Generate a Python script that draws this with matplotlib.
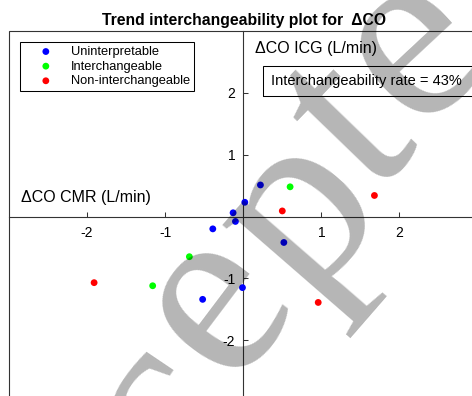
import matplotlib.pyplot as plt
from matplotlib.patches import Rectangle

# Change in cardiac output between two time points (L/min): CMR on x, ICG on y
unint_cmr = [0.22, 0.02, -0.13, -0.10, -0.39, 0.52, -0.01, -0.52]
unint_icg = [0.51, 0.23, 0.06, -0.08, -0.20, -0.42, -1.15, -1.34]
inter_cmr = [0.60, -0.69, -1.16]
inter_icg = [0.48, -0.65, -1.12]
noninter_cmr = [1.68, 0.50, -1.91, 0.96]
noninter_icg = [0.34, 0.09, -1.07, -1.39]

groups = ['Uninterpretable', 'Interchangeable', 'Non-interchangeable']
group_colors = ['#0000ff', '#00ff00', '#ff0000']
ticks = [-2, -1, 1, 2]

# share of interpretable points that agree in direction
rate = round(100 * len(inter_cmr) / (len(inter_cmr) + len(noninter_cmr)))

# part of the "Accepted" stamp that falls on the page: baseline centre (px) and angle
stamp_letters = ['c', 'e', 'p', 't', 'e']
stamp_x = [214, 264, 348, 397, 455]
stamp_y = [447, 340, 255, 170, 92]
stamp_rot = [56, 53, 49, 46, 43]

plt.rcParams['font.family'] = ['Liberation Sans', 'DejaVu Sans']
plt.rcParams['axes.unicode_minus'] = False
line_col = '#333333'

fig = plt.figure(figsize=(4.72, 3.96), dpi=100)
ax = fig.add_axes([9 / 472, 1 - 402 / 396, 468.5 / 472, 371 / 396])
ax.set_xlim(-3, 3)
ax.set_ylim(-3, 3)

# axes cross through the origin, plain box round the plot region
ax.spines['left'].set_position(('data', 0))
ax.spines['bottom'].set_position(('data', 0))
ax.spines['top'].set_visible(False)
ax.spines['right'].set_visible(False)
for side in ['left', 'bottom']:
    ax.spines[side].set_color(line_col)
    ax.spines[side].set_linewidth(0.8)
ax.add_patch(Rectangle((0, 0), 1, 1, transform=ax.transAxes, fill=False,
                       edgecolor=line_col, linewidth=0.8, clip_on=False))

ax.set_xticks(ticks)
ax.set_yticks(ticks)
ax.tick_params(direction='in', length=3.6, width=0.75, color=line_col, labelsize=10)
ax.tick_params(axis='x', pad=6.8)
ax.tick_params(axis='y', pad=5.8)

xs = [unint_cmr, inter_cmr, noninter_cmr]
ys = [unint_icg, inter_icg, noninter_icg]
for gx, gy, col, name in zip(xs, ys, group_colors, groups):
    ax.scatter(gx, gy, s=24, color=col, edgecolors='none', label=name, zorder=3)

leg = ax.legend(loc='upper left', bbox_to_anchor=(20 / 472, 1 - 42 / 396),
                bbox_transform=fig.transFigure, fontsize=9.3, fancybox=False,
                edgecolor='black', framealpha=1, borderpad=0.3, borderaxespad=0,
                handlelength=3.4, handletextpad=0.25, labelspacing=0.2,
                scatterpoints=1)
leg.get_frame().set_linewidth(0.75)

# axis names sit next to the axes cross
ax.text(-2.84, 0.31, '\u0394CO CMR (L/min)', fontsize=11.5, va='center', ha='left')
ax.text(0.15, 2.71, '\u0394CO ICG (L/min)', fontsize=11.5, va='center', ha='left')

# rate box runs out to the right edge of the plot
ax.add_patch(Rectangle((0.25, 1.952), 2.75, 0.483, fill=False,
                       edgecolor='black', linewidth=0.75, zorder=4))
ax.text(0.353, 2.19, 'Interchangeability rate = %d%%' % rate, fontsize=10.5,
        va='center', ha='left', zorder=5)

fig.text(243.5 / 472, 1 - 20.5 / 396, 'Trend interchangeability plot for  \u0394CO',
         fontsize=11.3, fontweight='bold', ha='center', va='center')

# journal stamp, one letter at a time so it can follow the curve
for ch, sx, sy, rot in zip(stamp_letters, stamp_x, stamp_y, stamp_rot):
    fig.text(sx / 472, 1 - sy / 396, ch, family='Liberation Serif', fontsize=183,
             rotation=rot, rotation_mode='anchor', ha='center', va='baseline',
             color='black', alpha=0.29, zorder=10)

plt.savefig('out.png', dpi=100)
